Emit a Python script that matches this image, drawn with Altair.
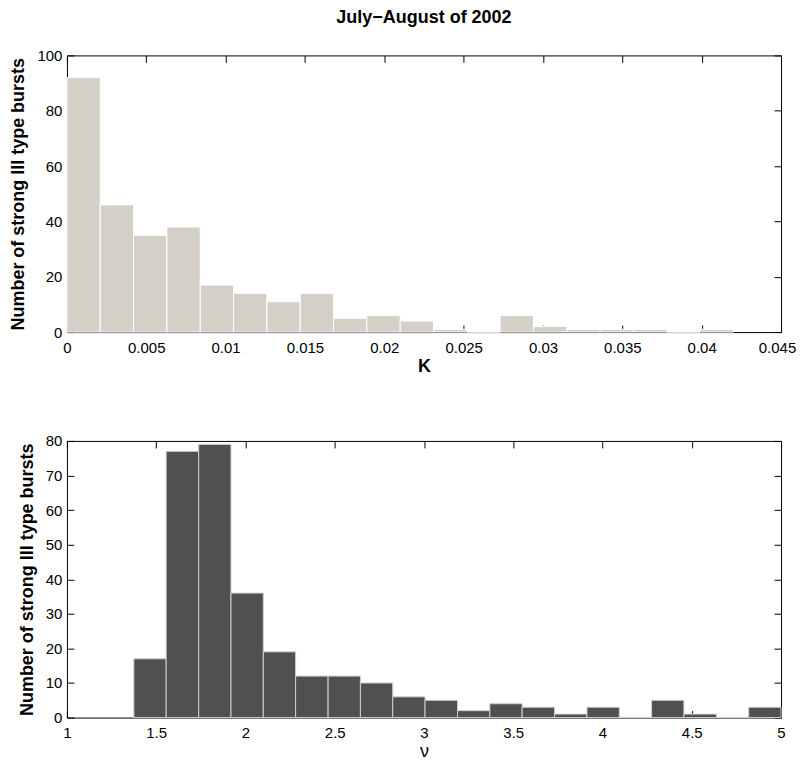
import altair as alt
import pandas as pd

# ---- data ----
k_edges = [0.0, 0.0021, 0.0042, 0.0063, 0.0084, 0.0105, 0.0126, 0.0147, 0.0168,
           0.0189, 0.021, 0.0231, 0.0252, 0.0273, 0.0294, 0.0315, 0.0336, 0.0357,
           0.0378, 0.0399, 0.042]
k_counts = [92, 46, 35, 38, 17, 14, 11, 14, 5, 6, 4, 1, 0, 6, 2, 1, 1, 1, 0, 1]

nu_edges = [1.375, 1.556, 1.738, 1.919, 2.1, 2.281, 2.463, 2.644, 2.825, 3.006,
            3.188, 3.369, 3.55, 3.731, 3.913, 4.094, 4.275, 4.456, 4.638, 4.819, 5.0]
nu_counts = [17, 77, 79, 36, 19, 12, 12, 10, 6, 5, 2, 4, 3, 1, 3, 0, 5, 1, 0, 3]

k_ticks = [0, 0.005, 0.01, 0.015, 0.02, 0.025, 0.03, 0.035, 0.04, 0.045]
k_count_ticks = [0, 20, 40, 60, 80, 100]
nu_ticks = [1, 1.5, 2, 2.5, 3, 3.5, 4, 4.5, 5]
nu_count_ticks = [0, 10, 20, 30, 40, 50, 60, 70, 80]

YTITLE = "Number of strong III type bursts"
FONT = "Liberation Sans"
W, H = 715, 277
TICK = 7


def make_df(edges, counts):
    return pd.DataFrame({"start": edges[:-1], "end": edges[1:], "count": counts})


def panel(df, xdom, ydom, xt, yt, xtitle, xweight, xtpad, fill, stroke, title=None,
          last_label_shift=0):
    xs = alt.Scale(domain=xdom, nice=False, zero=False)
    ys = alt.Scale(domain=ydom, nice=False)
    base = alt.Chart(df)

    last = xt[-1]
    label_offset = {"condition": {"test": f"datum.value >= {last} - 1e-9",
                                  "value": last_label_shift}, "value": 0}

    bars = base.mark_rect(fill=fill, stroke=stroke, strokeWidth=1).encode(
        x=alt.X("start:Q", scale=xs,
                axis=alt.Axis(orient="bottom", values=xt, format=".4~g", title=xtitle,
                              ticks=False, tickSize=0, domain=False, grid=False,
                              labelPadding=8, titlePadding=xtpad, labelFlush=False,
                              labelOverlap=False, titleFontWeight=xweight, zindex=0,
                              labelOffset=label_offset)),
        x2="end:Q",
        y=alt.Y("count:Q", scale=ys,
                axis=alt.Axis(orient="left", values=yt, format=".4~g", title=YTITLE,
                              ticks=False, tickSize=0, domain=False, grid=False,
                              labelPadding=5, titlePadding=9, labelFlush=False,
                              labelOverlap=False, zindex=0)),
        y2=alt.datum(0),
    )

    tick_common = dict(labels=False, title="", domain=False, grid=False, ticks=True,
                       tickSize=TICK, tickColor="black", tickWidth=1, zindex=0)

    # inward ticks on the bottom edge and on the left edge
    ticks_b = base.mark_point(opacity=0).encode(
        x=alt.X("start:Q", scale=xs,
                axis=alt.Axis(orient="top", offset=-H, values=xt, **tick_common)),
        y=alt.Y("count:Q", scale=ys,
                axis=alt.Axis(orient="right", offset=-W, values=yt, **tick_common)),
    )
    # inward ticks on the top edge and on the right edge
    ticks_c = base.mark_point(opacity=0).encode(
        x=alt.X("start:Q", scale=xs,
                axis=alt.Axis(orient="bottom", offset=-H, values=xt, **tick_common)),
        y=alt.Y("count:Q", scale=ys,
                axis=alt.Axis(orient="left", offset=-W, values=yt, **tick_common)),
    )

    props = dict(width=W, height=H)
    if title is not None:
        props["title"] = alt.TitleParams(title, fontSize=18, fontWeight="bold", font=FONT,
                                         color="black", anchor="middle", frame="group",
                                         offset=21)
    return alt.layer(bars, ticks_b, ticks_c).properties(**props)


top = panel(make_df(k_edges, k_counts), [0, 0.045], [0, 100], k_ticks, k_count_ticks,
            "K", "bold", 2, "#d4d0c8", "#ffffff", title="July\u2212August of 2002",
            last_label_shift=-4)
bottom = panel(make_df(nu_edges, nu_counts), [1, 5], [0, 80], nu_ticks, nu_count_ticks,
               "\u03bd", "normal", 2, "#505050", "#d0d0d0")

chart = alt.vconcat(top, bottom, spacing=57).properties(
    padding={"left": 1, "top": 0, "right": 0, "bottom": 0},
    background="white",
).configure_view(
    stroke="black", strokeWidth=1
).configure_axis(
    labelFont=FONT, labelFontSize=15, labelColor="black",
    titleFont=FONT, titleFontSize=18, titleColor="black", titleFontWeight="bold"
)

chart.save("out.html", embed_options={"renderer": "svg", "actions": False})
